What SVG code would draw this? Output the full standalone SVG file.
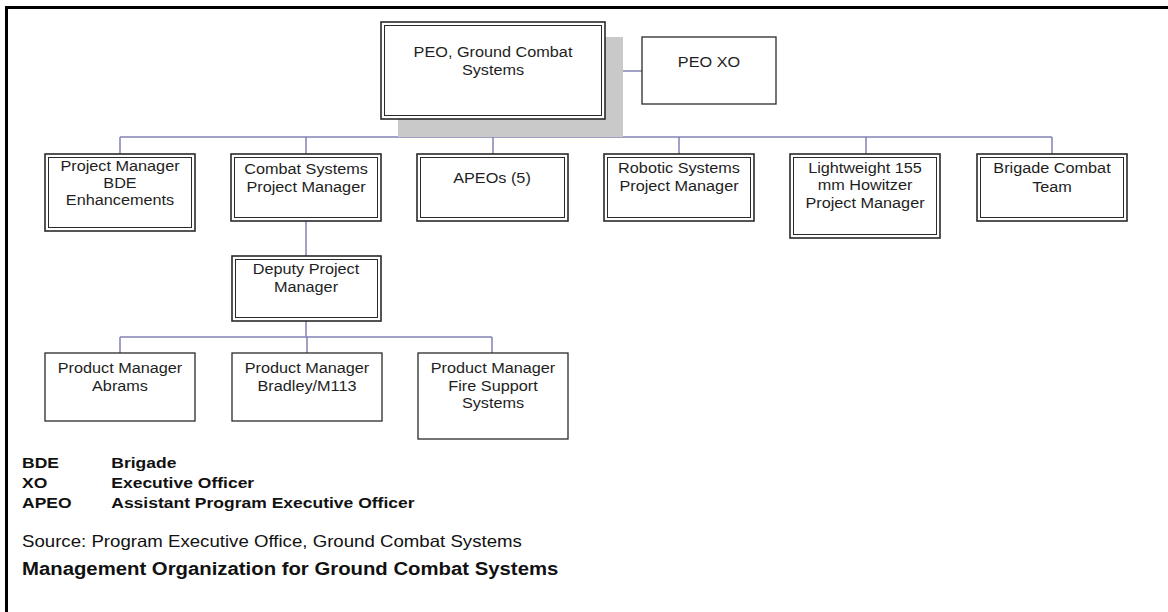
<svg xmlns="http://www.w3.org/2000/svg" width="1168" height="612" viewBox="0 0 1168 612">
<style>
.o{fill:#fff;stroke:#2a2a2a;stroke-width:1.6}
.i{fill:none;stroke:#2a2a2a;stroke-width:1}
.s{fill:#fff;stroke:#2a2a2a;stroke-width:1.3}
.t{font-family:"Liberation Sans",Arial,sans-serif;font-size:14px;fill:#1e1e1e;text-anchor:middle}
.l{font-family:"Liberation Sans",Arial,sans-serif;font-size:15.5px;font-weight:bold;fill:#111}
.r{font-family:"Liberation Sans",Arial,sans-serif;font-size:16.5px;fill:#111}
.h{font-family:"Liberation Sans",Arial,sans-serif;font-size:18px;font-weight:bold;fill:#111}
.c{fill:none;stroke:#8383b3;stroke-width:1.5}
</style>
<rect width="1168" height="612" fill="#fff"/>
<path d="M5 7.5H1168M6.5 6V612" stroke="#000" stroke-width="3" fill="none"/>
<g id="connectors">
<path class="c" d="M605 71H642M494 119V137M120 137H1052M120 137V154M306 137V154M493 137V154M679 137V154M866 137V154M1052 137V154"/>
<path class="c" d="M306 221V256M306 321V337M120 337H492M120 337V353M307 337V353M492 337V353"/>
</g>
<g id="peo">
<rect x="398" y="37" width="225" height="100" fill="#c9c9c9"/>
<rect class="o" x="381" y="22" width="224" height="97"/><rect class="i" x="384.5" y="25.5" width="217" height="90"/>
<g transform="translate(493 0) scale(1.16 1)"><text class="t" x="0" y="57">PEO, Ground Combat</text><text class="t" x="0" y="75">Systems</text></g>
</g>
<g id="peoxo">
<rect class="s" x="642" y="37" width="134" height="67"/>
<g transform="translate(709 0) scale(1.16 1)"><text class="t" x="0" y="67">PEO XO</text></g>
</g>
<g id="pmbde">
<rect class="o" x="45" y="154" width="150" height="77"/><rect class="i" x="48.5" y="157.5" width="143" height="70"/>
<g transform="translate(120 0) scale(1.16 1)"><text class="t" x="0" y="171">Project Manager</text><text class="t" x="0" y="188">BDE</text><text class="t" x="0" y="205">Enhancements</text></g>
</g>
<g id="cspm">
<rect class="o" x="231" y="154" width="150" height="67"/><rect class="i" x="234.5" y="157.5" width="143" height="60"/>
<g transform="translate(306 0) scale(1.16 1)"><text class="t" x="0" y="174">Combat Systems</text><text class="t" x="0" y="192">Project Manager</text></g>
</g>
<g id="apeos">
<rect class="o" x="417" y="154" width="151" height="67"/><rect class="i" x="420.5" y="157.5" width="144" height="60"/>
<g transform="translate(492 0) scale(1.16 1)"><text class="t" x="0" y="183">APEOs (5)</text></g>
</g>
<g id="robotic">
<rect class="o" x="604" y="154" width="150" height="67"/><rect class="i" x="607.5" y="157.5" width="143" height="60"/>
<g transform="translate(679 0) scale(1.16 1)"><text class="t" x="0" y="173">Robotic Systems</text><text class="t" x="0" y="191">Project Manager</text></g>
</g>
<g id="lw155">
<rect class="o" x="790" y="154" width="150" height="84"/><rect class="i" x="793.5" y="157.5" width="143" height="77"/>
<g transform="translate(865 0) scale(1.16 1)"><text class="t" x="0" y="173">Lightweight 155</text><text class="t" x="0" y="190">mm Howitzer</text><text class="t" x="0" y="208">Project Manager</text></g>
</g>
<g id="bct">
<rect class="o" x="977" y="154" width="150" height="67"/><rect class="i" x="980.5" y="157.5" width="143" height="60"/>
<g transform="translate(1052 0) scale(1.16 1)"><text class="t" x="0" y="173">Brigade Combat</text><text class="t" x="0" y="192">Team</text></g>
</g>
<g id="deputy">
<rect class="o" x="232" y="256" width="149" height="65"/><rect class="i" x="235.5" y="259.5" width="142" height="58"/>
<g transform="translate(306 0) scale(1.16 1)"><text class="t" x="0" y="274">Deputy Project</text><text class="t" x="0" y="292">Manager</text></g>
</g>
<g id="abrams">
<rect class="s" x="45" y="353" width="150" height="68"/>
<g transform="translate(120 0) scale(1.16 1)"><text class="t" x="0" y="373">Product Manager</text><text class="t" x="0" y="391">Abrams</text></g>
</g>
<g id="bradley">
<rect class="s" x="232" y="353" width="150" height="68"/>
<g transform="translate(307 0) scale(1.16 1)"><text class="t" x="0" y="373">Product Manager</text><text class="t" x="0" y="391">Bradley/M113</text></g>
</g>
<g id="firesupport">
<rect class="s" x="418" y="353" width="150" height="86"/>
<g transform="translate(493 0) scale(1.16 1)"><text class="t" x="0" y="373">Product Manager</text><text class="t" x="0" y="391">Fire Support</text><text class="t" x="0" y="408">Systems</text></g>
</g>
<g id="legend" transform="translate(22 0) scale(1.13 1)">
<text class="l" x="0" y="468">BDE</text><text class="l" x="79" y="468">Brigade</text>
<text class="l" x="0" y="488">XO</text><text class="l" x="79" y="488">Executive Officer</text>
<text class="l" x="0" y="508">APEO</text><text class="l" x="79" y="508">Assistant Program Executive Officer</text>
</g>
<g id="source" transform="translate(22 0) scale(1.13 1)">
<text class="r" x="0" y="547">Source: Program Executive Office, Ground Combat Systems</text>
<text class="h" x="0" y="575">Management Organization for Ground Combat Systems</text>
</g>
</svg>
